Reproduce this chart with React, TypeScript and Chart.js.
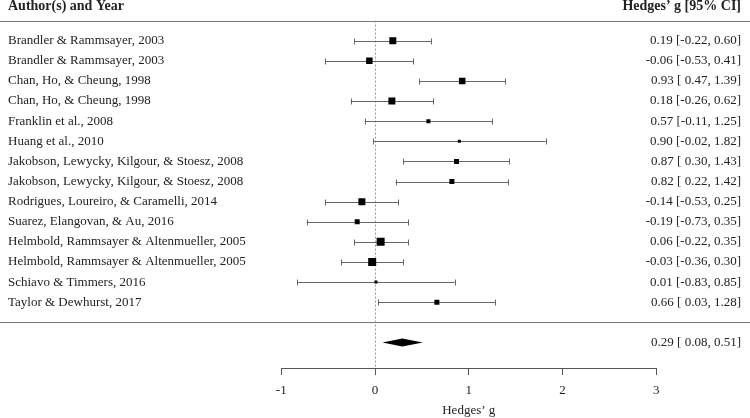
import React, { useEffect, useRef } from "react";
import { Chart, registerables } from "chart.js";

Chart.register(...registerables);

const studies = [
  "Brandler & Rammsayer, 2003",
  "Brandler & Rammsayer, 2003",
  "Chan, Ho, & Cheung, 1998",
  "Chan, Ho, & Cheung, 1998",
  "Franklin et al., 2008",
  "Huang et al., 2010",
  "Jakobson, Lewycky, Kilgour, & Stoesz, 2008",
  "Jakobson, Lewycky, Kilgour, & Stoesz, 2008",
  "Rodrigues, Loureiro, & Caramelli, 2014",
  "Suarez, Elangovan, & Au, 2016",
  "Helmbold, Rammsayer & Altenmueller, 2005",
  "Helmbold, Rammsayer & Altenmueller, 2005",
  "Schiavo & Timmers, 2016",
  "Taylor & Dewhurst, 2017",
];
const estimates = [0.19, -0.06, 0.93, 0.18, 0.57, 0.9, 0.87, 0.82, -0.14, -0.19, 0.06, -0.03, 0.01, 0.66];
const lower = [-0.22, -0.53, 0.47, -0.26, -0.11, -0.02, 0.3, 0.22, -0.53, -0.73, -0.22, -0.36, -0.83, 0.03];
const upper = [0.6, 0.41, 1.39, 0.62, 1.25, 1.82, 1.43, 1.42, 0.25, 0.35, 0.35, 0.3, 0.85, 1.28];
const markerSides = [7, 6.5, 6.5, 7, 4, 3, 5, 5, 7, 5, 8, 8, 3, 5];
const summaryEst = 0.29;
const summaryLower = 0.08;
const summaryUpper = 0.51;
const xTicks = [-1, 0, 1, 2, 3];

const FONT = "'Liberation Serif', 'Times New Roman', serif";
const TEXT = "#222";

const rows = studies.map((_, i) => i + 1);
const summaryRow = studies.length + 2;
const sepRow = studies.length + 1;

function fmt(e: number, l: number, u: number) {
  const f = (v: number) => (v < 0 ? "" : " ") + v.toFixed(2);
  return `${e.toFixed(2)} [${f(l)},${f(u)}]`;
}

const forestPlugin = {
  id: "forest",
  beforeDatasetsDraw(chart: any) {
    const { ctx, chartArea, scales } = chart;
    const x = scales.x;
    const y = scales.y;
    ctx.save();
    // horizontal separator lines
    ctx.strokeStyle = "#777";
    ctx.lineWidth = 1;
    [0, sepRow].forEach((r) => {
      const py = Math.round(y.getPixelForValue(r)) + 0.5;
      ctx.beginPath();
      ctx.moveTo(0, py);
      ctx.lineTo(chart.width, py);
      ctx.stroke();
    });
    // dotted zero line
    ctx.strokeStyle = "#999";
    ctx.setLineDash([2, 2]);
    const zx = Math.round(x.getPixelForValue(0)) + 0.5;
    ctx.beginPath();
    ctx.moveTo(zx, y.getPixelForValue(0));
    ctx.lineTo(zx, chartArea.bottom);
    ctx.stroke();
    ctx.setLineDash([]);
    // axis line
    ctx.strokeStyle = "#555";
    const ay = Math.round(chartArea.bottom) + 0.5;
    ctx.beginPath();
    ctx.moveTo(x.getPixelForValue(xTicks[0]), ay);
    ctx.lineTo(x.getPixelForValue(xTicks[xTicks.length - 1]), ay);
    ctx.stroke();
    // CI lines and caps
    ctx.strokeStyle = "#666";
    studies.forEach((_, i) => {
      const py = Math.round(y.getPixelForValue(rows[i])) + 0.5;
      const x1 = x.getPixelForValue(lower[i]);
      const x2 = x.getPixelForValue(upper[i]);
      ctx.beginPath();
      ctx.moveTo(x1, py);
      ctx.lineTo(x2, py);
      ctx.moveTo(Math.round(x1) + 0.5, py - 3);
      ctx.lineTo(Math.round(x1) + 0.5, py + 3);
      ctx.moveTo(Math.round(x2) + 0.5, py - 3);
      ctx.lineTo(Math.round(x2) + 0.5, py + 3);
      ctx.stroke();
    });
    // diamond
    const sy = y.getPixelForValue(summaryRow);
    ctx.fillStyle = "#000";
    ctx.beginPath();
    ctx.moveTo(x.getPixelForValue(summaryLower), sy);
    ctx.lineTo(x.getPixelForValue(summaryEst), sy - 4);
    ctx.lineTo(x.getPixelForValue(summaryUpper), sy);
    ctx.lineTo(x.getPixelForValue(summaryEst), sy + 4);
    ctx.closePath();
    ctx.fill();
    // texts
    ctx.fillStyle = TEXT;
    ctx.textBaseline = "middle";
    ctx.font = `bold 14px ${FONT}`;
    const hy = y.getPixelForValue(-0.72);
    ctx.textAlign = "left";
    ctx.fillText("Author(s) and Year", 8, hy);
    ctx.textAlign = "right";
    ctx.fillText("Hedges\u2019 g [95% CI]", 741, hy);
    ctx.font = `13px ${FONT}`;
    studies.forEach((s, i) => {
      const py = y.getPixelForValue(rows[i]);
      ctx.textAlign = "left";
      ctx.fillText(s, 8, py);
      ctx.textAlign = "right";
      ctx.fillText(fmt(estimates[i], lower[i], upper[i]), 741, py);
    });
    ctx.fillText(fmt(summaryEst, summaryLower, summaryUpper), 741, sy);
    ctx.restore();
  },
};

export default function App() {
  const ref = useRef<HTMLCanvasElement | null>(null);
  useEffect(() => {
    if (!ref.current) return;
    const chart = new Chart(ref.current, {
      type: "scatter",
      data: {
        datasets: [
          {
            data: estimates.map((e, i) => ({ x: e, y: rows[i] })),
            pointStyle: "rect",
            pointRadius: markerSides.map((s) => s / Math.SQRT2),
            pointHoverRadius: markerSides.map((s) => s / Math.SQRT2),
            backgroundColor: "#000",
            borderColor: "#000",
            borderWidth: 0,
          },
        ],
      },
      options: {
        animation: false,
        responsive: true,
        maintainAspectRatio: false,
        layout: { padding: { left: 187.5, right: 0, top: 0, bottom: 0 }, autoPadding: false },
        plugins: { legend: { display: false }, tooltip: { enabled: false } },
        scales: {
          x: {
            type: "linear",
            min: -2,
            max: 4,
            afterBuildTicks: (s: any) => {
              s.ticks = xTicks.map((v) => ({ value: v }));
            },
            afterFit: (s: any) => {
              s.height = 50;
              s.paddingLeft = 0;
              s.paddingRight = 0;
            },
            border: { display: false },
            grid: { drawOnChartArea: false, drawTicks: true, tickLength: 7, color: "#555" },
            ticks: {
              padding: 8,
              color: TEXT,
              font: { family: FONT, size: 13 },
              callback: (v: any) => String(v),
            },
            title: {
              display: true,
              text: "Hedges\u2019 g",
              color: TEXT,
              font: { family: FONT, size: 13 },
              padding: { top: 0, bottom: 0 },
            },
          },
          y: {
            type: "linear",
            display: false,
            reverse: true,
            min: -1.023,
            max: 17.27,
          },
        },
      },
      plugins: [forestPlugin],
    });
    return () => chart.destroy();
  }, []);
  return (
    <div style={{ position: "fixed", left: 0, top: 0, width: 750, height: 418, background: "#fff" }}>
      <canvas ref={ref} />
    </div>
  );
}
